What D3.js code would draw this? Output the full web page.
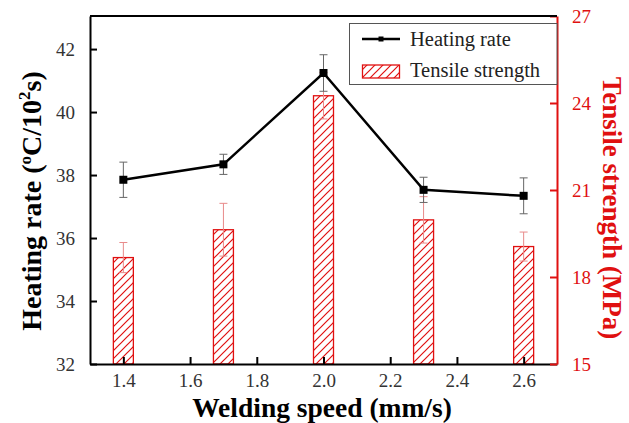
<!DOCTYPE html>
<html>
<head>
<meta charset="utf-8">
<script src="https://cdn.jsdelivr.net/npm/d3@7"></script>
<style>
  body { margin: 0; background: #fff; }
  text { font-family: "Liberation Serif", "Times New Roman", serif; }
</style>
</head>
<body>
<div id="chart"></div>
<script>
// data
const speeds = [1.4, 1.7, 2.0, 2.3, 2.6];
const heatingRate = [37.85, 38.34, 41.24, 37.53, 37.34];
const heatingErr = [0.56, 0.32, 0.58, 0.4, 0.57];
const tensile = [18.67, 19.63, 24.25, 19.97, 19.05];
const tensileErr = [0.52, 0.91, 0.8, 0.8, 0.5];
const xTicks = [1.4, 1.6, 1.8, 2.0, 2.2, 2.4, 2.6];
const yLeftTicks = [32, 34, 36, 38, 40, 42];
const yRightTicks = [15, 18, 21, 24, 27];

const width = 629, height = 423,
    margin = ({ top: 16, right: 72, bottom: 59, left: 90 });
const red = "#e01010", redLight = "#e88a8a";

const svg = d3.select("#chart")
    .append("svg")
    .attr("width", width)
    .attr("height", height);

// hatch for the bars
const pat = svg.append("defs").append("pattern")
    .attr("id", "hatchRed")
    .attr("patternUnits", "userSpaceOnUse")
    .attr("x", 0).attr("y", 0)
    .attr("width", 8).attr("height", 8);
pat.append("path")
    .attr("d", "M0,8L8,0M-2,2L2,-2M6,10L10,6")
    .style("stroke", red)
    .style("fill", "none")
    .style("stroke-width", "1.2px");

let x = d3.scaleLinear()
    .domain([1.3, 2.7])
    .range([margin.left, width - margin.right]);

let yL = d3.scaleLinear()
    .domain([32, 43.05])
    .range([height - margin.bottom, margin.top]);

let yR = d3.scaleLinear()
    .domain([15, 27])
    .range([height - margin.bottom, margin.top]);

const barW = 20;

// bars (tensile strength)
svg.append("g").selectAll("rect")
    .data(speeds)
    .join("rect")
    .attr("x", (d, i) => x(d) - barW / 2)
    .attr("y", (d, i) => yR(tensile[i]))
    .attr("width", barW)
    .attr("height", (d, i) => yR(15) - yR(tensile[i]))
    .style("fill", "url(#hatchRed)")
    .attr("stroke", red)
    .attr("stroke-width", 1.3);

// error bars helper
function errBars(vals, errs, scale, color) {
    const g = svg.append("g").attr("stroke", color).attr("stroke-width", 1).attr("fill", "none");
    speeds.forEach((s, i) => {
        const cx = x(s), y1 = scale(vals[i] - errs[i]), y2 = scale(vals[i] + errs[i]);
        g.append("path")
            .attr("d", `M${cx},${y1}V${y2}M${cx - 4},${y1}H${cx + 4}M${cx - 4},${y2}H${cx + 4}`);
    });
}
errBars(tensile, tensileErr, yR, redLight);

// heating rate line
let line = d3.line()
    .x((d, i) => x(speeds[i]))
    .y(d => yL(d));

svg.append("path")
    .datum(heatingRate)
    .attr("d", line)
    .attr("fill", "none")
    .attr("stroke", "#000")
    .attr("stroke-width", 2.5);

errBars(heatingRate, heatingErr, yL, "#666");

svg.append("g").selectAll("rect")
    .data(heatingRate)
    .join("rect")
    .attr("x", (d, i) => x(speeds[i]) - 4)
    .attr("y", d => yL(d) - 4)
    .attr("width", 8)
    .attr("height", 8)
    .attr("fill", "#000");

// axes
const tickStyle = g => {
    g.selectAll(".tick text")
        .style("font-family", "'Liberation Serif', 'Times New Roman', serif")
        .style("font-size", "19px");
    g.select(".domain").attr("stroke-width", 2);
    g.selectAll(".tick line").attr("stroke-width", 2);
};

svg.append("g")
    .attr("transform", `translate(0,${height - margin.bottom})`)
    .call(d3.axisBottom(x).tickValues(xTicks).tickFormat(d3.format(".1f")).tickSize(-7).tickSizeOuter(0).tickPadding(10))
    .call(tickStyle)
    .call(g => g.selectAll(".tick text").attr("fill", "#333"));

svg.append("g")
    .attr("transform", `translate(${margin.left},0)`)
    .call(d3.axisLeft(yL).tickValues(yLeftTicks).tickSize(-7).tickSizeOuter(0).tickPadding(15))
    .call(tickStyle)
    .call(g => g.selectAll(".tick text").attr("fill", "#333"));

svg.append("g")
    .attr("transform", `translate(${width - margin.right},0)`)
    .call(d3.axisRight(yR).tickValues(yRightTicks).tickSize(-7).tickSizeOuter(0).tickPadding(15))
    .call(tickStyle)
    .call(g => {
        g.select(".domain").attr("stroke", red);
        g.selectAll(".tick line").attr("stroke", red);
        g.selectAll(".tick text").attr("fill", red);
    });

// top frame line
svg.append("line")
    .attr("x1", margin.left).attr("x2", width - margin.right)
    .attr("y1", margin.top).attr("y2", margin.top)
    .attr("stroke", "#000").attr("stroke-width", 2);

// axis titles
svg.append("text")
    .attr("text-anchor", "middle")
    .attr("x", 322)
    .attr("y", 417)
    .style("font-size", "27.5px")
    .style("font-weight", "bold")
    .text("Welding speed (mm/s)");

const yTitle = svg.append("text")
    .attr("text-anchor", "middle")
    .attr("transform", "translate(41,201) rotate(-90)")
    .style("font-size", "28px")
    .style("font-weight", "bold");
yTitle.append("tspan").text("Heating rate (");
yTitle.append("tspan").attr("dy", -10).style("font-size", "17px").text("o");
yTitle.append("tspan").attr("dy", 10).text("C/10");
yTitle.append("tspan").attr("dy", -11).style("font-size", "17px").text("2");
yTitle.append("tspan").attr("dy", 11).text("s)");

svg.append("text")
    .attr("text-anchor", "middle")
    .attr("transform", "translate(603,208) rotate(90)")
    .attr("fill", red)
    .style("font-size", "27px")
    .style("font-weight", "bold")
    .text("Tensile strength (MPa)");

// legend
const leg = svg.append("g");
leg.append("rect")
    .attr("x", 349.5).attr("y", 23.5)
    .attr("width", width - margin.right - 349.5).attr("height", 61)
    .attr("fill", "#fff")
    .attr("stroke", "#555")
    .attr("stroke-width", 1);
leg.append("line")
    .attr("x1", 362).attr("x2", 400).attr("y1", 39).attr("y2", 39)
    .attr("stroke", "#000").attr("stroke-width", 2.5);
leg.append("rect")
    .attr("x", 378.5).attr("y", 36.5).attr("width", 5).attr("height", 5)
    .attr("fill", "#000");
leg.append("rect")
    .attr("x", 362.5).attr("y", 65).attr("width", 37).attr("height", 13)
    .style("fill", "url(#hatchRed)")
    .attr("stroke", red).attr("stroke-width", 1.3);
leg.append("text")
    .attr("x", 410).attr("y", 46)
    .attr("fill", "#222")
    .style("font-size", "20.5px")
    .text("Heating rate");
leg.append("text")
    .attr("x", 410).attr("y", 77)
    .attr("fill", "#222")
    .style("font-size", "20.5px")
    .text("Tensile strength");
</script>
</body>
</html>
